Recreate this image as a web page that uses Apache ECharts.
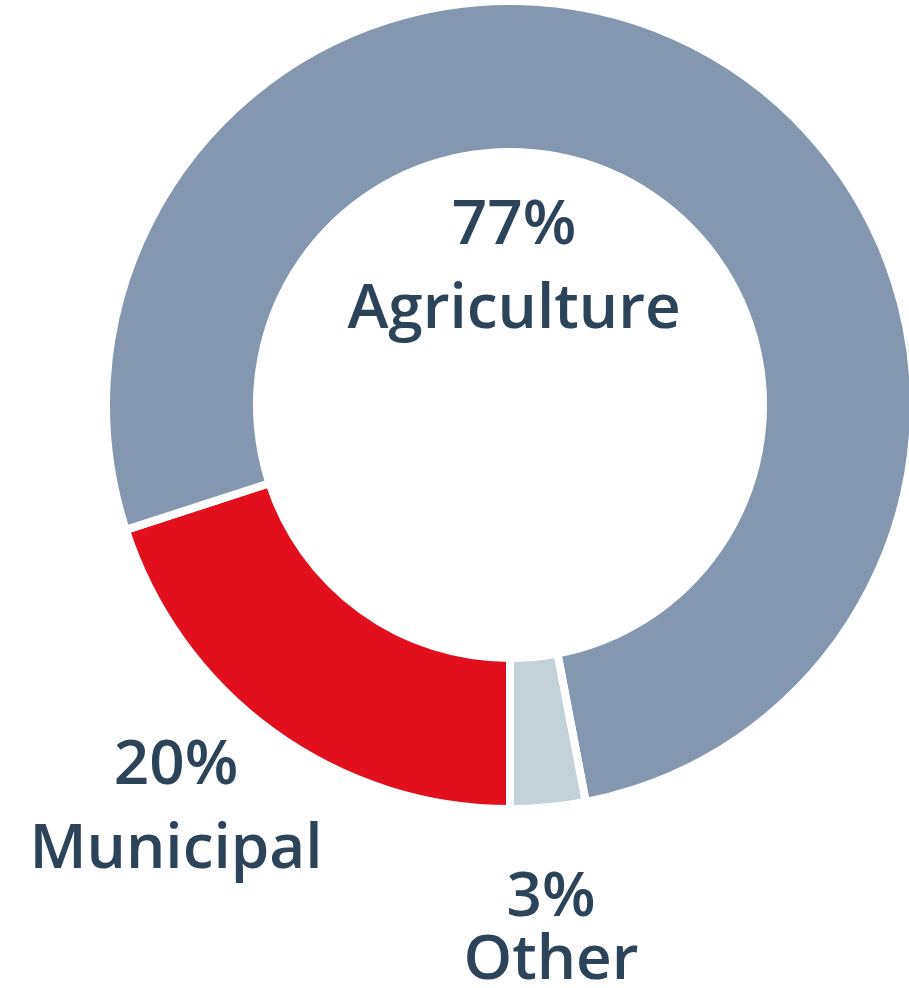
<!DOCTYPE html>
<html>
<head>
<meta charset="utf-8">
<script src="https://cdn.jsdelivr.net/npm/echarts@6/dist/echarts.min.js"></script>
<style>
html,body{margin:0;padding:0;background:#fff;}
#chart{width:909px;height:988px;}
</style>
</head>
<body>
<div id="chart"></div>
<script>
// Data (clockwise from 6 o'clock)
const categories = ['Municipal', 'Agriculture', 'Other'];
const shares = [20, 77, 3];
const sliceColors = ['#e2101c', '#8497ae', '#c3d1d9'];

// label anchor positions (label layout only)
const labelSpots = [
  {x: 176, y: 808, lh: 84},
  {x: 514, y: 268, lh: 84},
  {x: 551, y: 930, lh: 63}
];

const chart = echarts.init(document.getElementById('chart'), null, {renderer: 'canvas'});
const textColor = '#2d4358';
const fontFam = '"Open Sans", "Noto Sans", sans-serif';

const data = categories.map((name, i) => ({
  name: name,
  value: shares[i],
  itemStyle: {color: sliceColors[i]},
  label: {
    rich: {
      p: {fontSize: 62, fontWeight: 600, fontFamily: fontFam, color: textColor, lineHeight: labelSpots[i].lh, align: 'center'},
      n: {fontSize: 62, fontWeight: 600, fontFamily: fontFam, color: textColor, lineHeight: labelSpots[i].lh, align: 'center'}
    }
  }
}));

chart.setOption({
  animation: false,
  backgroundColor: '#ffffff',
  series: [{
    type: 'pie',
    center: [510, 405],
    radius: [253, 404],
    startAngle: 270,
    clockwise: true,
    avoidLabelOverlap: false,
    itemStyle: {borderColor: '#ffffff', borderWidth: 8},
    label: {
      show: true,
      position: 'outside',
      formatter: function (p) { return '{p|' + p.value + '%}\n{n|' + p.name + '}'; }
    },
    labelLine: {show: false},
    labelLayout: function (params) {
      const s = labelSpots[params.dataIndex];
      return {x: s.x, y: s.y, align: 'center', verticalAlign: 'middle', hideOverlap: false};
    },
    emphasis: {disabled: true},
    data: data
  }]
});
</script>
</body>
</html>
